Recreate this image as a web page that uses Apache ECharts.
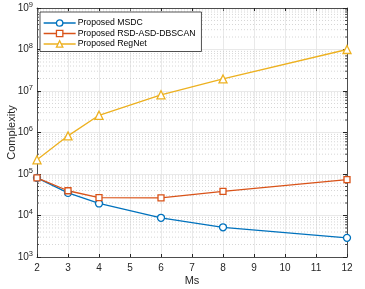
<!DOCTYPE html>
<html>
<head>
<meta charset="utf-8">
<script src="https://cdn.jsdelivr.net/npm/echarts@6/dist/echarts.min.js"></script>
<style>html,body{margin:0;padding:0;background:#fff;}#c{width:365px;height:289px;}</style>
</head>
<body>
<div id="c"></div>
<script>
const msValues = [2, 3, 4, 6, 8, 12];
const msdc = [81000, 35000, 19500, 8800, 5200, 2900];
const rsdAsdDbscan = [81000, 39500, 27000, 26500, 38000, 73000];
const regNet = [220000, 830000, 2600000, 8100000, 19500000, 100000000];
const seriesNames = ['Proposed MSDC', 'Proposed RSD-ASD-DBSCAN', 'Proposed RegNet'];
const colors = ['#0072BD', '#D95319', '#EDB120'];
const xTicks = [2, 3, 4, 5, 6, 7, 8, 9, 10, 11, 12];
const yMin = 1e3, yMax = 1e9;
const minorMultipliers = [2, 3, 4, 5, 6, 7, 8, 9];
const decades = [1e3, 1e4, 1e5, 1e6, 1e7, 1e8];

const minorValues = [];
decades.forEach(d => minorMultipliers.forEach(m => minorValues.push([xTicks[0], d * m])));

const pair = arr => msValues.map((x, i) => [x, arr[i]]);
const font = 'Liberation Sans, Arial, Helvetica, sans-serif';
const axisColor = '#262626';

const chart = echarts.init(document.getElementById('c'), null, {renderer: 'canvas'});
const lineSeries = (name, data, color, symbol, size) => ({
  name, type: 'line', data: pair(data), symbol, symbolSize: size,
  showSymbol: true, z: 5,
  lineStyle: {color, width: 1.3},
  itemStyle: {color: '#fff', borderColor: color, borderWidth: 1.3},
  emphasis: {disabled: true}, animation: false
});

chart.setOption({
  animation: false,
  textStyle: {fontFamily: font},
  grid: {left: 37, right: 18, top: 8, bottom: 32, containLabel: false, outerBoundsMode: 'none'},
  legend: {
    data: seriesNames.map((n, i) => ({name: n, itemStyle: {color: '#fff', borderColor: colors[i], borderWidth: 1.3}, lineStyle: {color: colors[i], width: 1.3}})),
    orient: 'vertical', left: 40, top: 12,
    itemWidth: 32, itemHeight: 8, itemGap: 0.5,
    padding: [6, 6, 2.5, 3],
    borderColor: axisColor, borderWidth: 0.8, backgroundColor: '#fff',
    textStyle: {fontSize: 8.7, lineHeight: 10, color: '#000', fontFamily: font, padding: [0, 0, 0, -3]}
  },
  xAxis: [{
    type: 'value', min: 2, max: 12, interval: 1, position: 'bottom',
    name: 'Ms', nameLocation: 'middle', nameGap: 18, nameMoveOverlap: false,
    nameTextStyle: {fontSize: 11, color: axisColor, fontFamily: font},
    axisLine: {onZero: false, lineStyle: {color: axisColor, width: 0.8}},
    axisTick: {inside: true, length: 3, lineStyle: {color: axisColor}},
    axisLabel: {fontSize: 10, color: axisColor, margin: 6, fontFamily: font},
    splitLine: {show: true, lineStyle: {color: '#e3e3e3', width: 0.8}}
  }, {
    type: 'value', min: 2, max: 12, interval: 1, position: 'top',
    axisLine: {onZero: false, lineStyle: {color: axisColor, width: 0.8}},
    axisTick: {inside: true, length: 3, lineStyle: {color: axisColor}},
    axisLabel: {show: false}, splitLine: {show: false}
  }],
  yAxis: [{
    type: 'log', logBase: 10, min: yMin, max: yMax, position: 'left',
    name: 'Complexity', nameLocation: 'middle', nameGap: 20, nameMoveOverlap: false,
    nameTextStyle: {fontSize: 11, color: axisColor, fontFamily: font},
    axisLine: {show: true, lineStyle: {color: axisColor, width: 0.8}},
    axisTick: {inside: true, length: 4, lineStyle: {color: axisColor}},
    axisLabel: {
      margin: 4, color: axisColor,
      formatter: v => '{b|10}{s|' + Math.round(Math.log10(v)) + '}',
      rich: {b: {fontSize: 10, color: axisColor, fontFamily: font},
             s: {fontSize: 7.5, color: axisColor, fontFamily: font, padding: [0, 0, 7, 0]}}
    },
    splitLine: {show: true, lineStyle: {color: '#e3e3e3', width: 0.8}}
  }, {
    type: 'log', logBase: 10, min: yMin, max: yMax, position: 'right',
    axisLine: {show: true, lineStyle: {color: axisColor, width: 0.8}},
    axisTick: {inside: true, length: 4, lineStyle: {color: axisColor}},
    axisLabel: {show: false}, splitLine: {show: false}
  }],
  series: [
    {
      type: 'custom', silent: true, z: 1, data: minorValues,
      renderItem: (params, api) => {
        const cs = params.coordSys;
        const y = api.coord([api.value(0), api.value(1)])[1];
        return {type: 'group', children: [
          {type: 'line', shape: {x1: cs.x, y1: y, x2: cs.x + cs.width, y2: y},
           style: {stroke: '#cccccc', lineWidth: 0.8, lineDash: [1, 2]}},
          {type: 'line', shape: {x1: cs.x, y1: y, x2: cs.x + 2, y2: y},
           style: {stroke: axisColor, lineWidth: 0.8}},
          {type: 'line', shape: {x1: cs.x + cs.width - 2, y1: y, x2: cs.x + cs.width, y2: y},
           style: {stroke: axisColor, lineWidth: 0.8}}
        ]};
      }
    },
    lineSeries(seriesNames[0], msdc, colors[0], 'circle', 7),
    lineSeries(seriesNames[1], rsdAsdDbscan, colors[1], 'rect', 6),
    lineSeries(seriesNames[2], regNet, colors[2], 'triangle', 8)
  ]
});
</script>
</body>
</html>
